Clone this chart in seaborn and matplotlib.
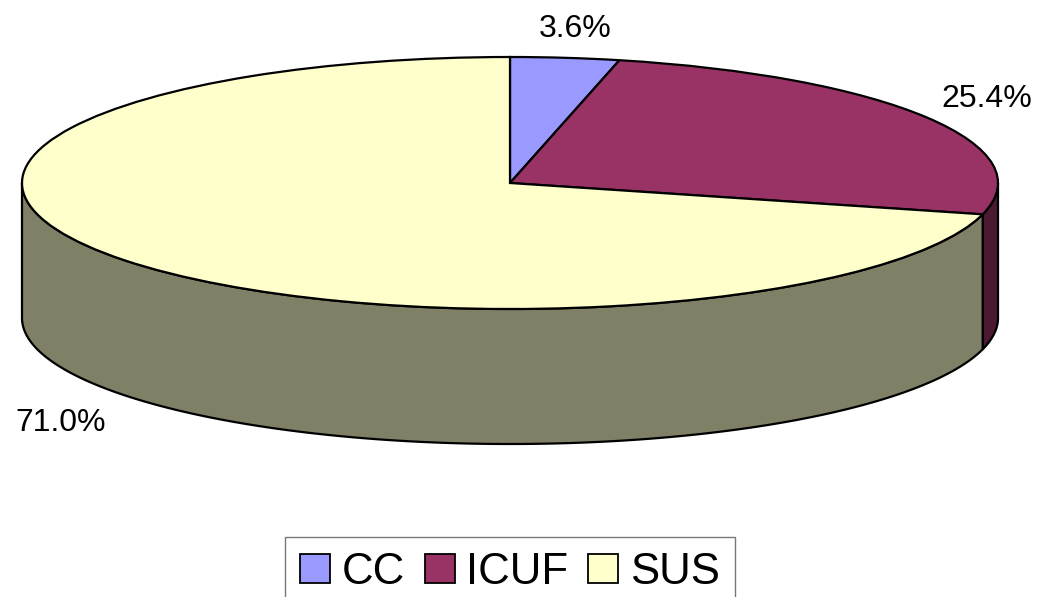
import matplotlib
matplotlib.use('Agg')
import matplotlib.pyplot as plt
import seaborn as sns
import numpy as np
from matplotlib.patches import Patch

# data
labels = ['CC', 'ICUF', 'SUS']
shares = [3.6, 25.4, 71.0]
pct_text = ['3.6%', '25.4%', '71.0%']

top_colors = ['#9999FF', '#993366', '#FFFFCC']
side_colors = ['#4C4C80', '#4C1933', '#808066']

sns.set_theme(style='white')
plt.rcParams['font.family'] = ['Liberation Sans', 'DejaVu Sans']
plt.rcParams['text.color'] = 'black'

W, H = 1043, 597
fig = plt.figure(figsize=(W / 100, H / 100), dpi=100)
ax = fig.add_axes([0, 0, 1, 1])

# pixel geometry of the tilted pie
cx, cy = 510, 183
rx, ry = 488, 126
depth = 135 / ry

# side walls (front half only, angles between -180 and 0)
bounds = 90 - np.concatenate([[0], np.cumsum(shares)]) * 3.6
for i in range(len(shares)):
    a_hi, a_lo = bounds[i], bounds[i + 1]
    lo = max(a_lo, -180)
    hi = min(a_hi, 0)
    if hi <= lo:
        continue
    t = np.radians(np.linspace(lo, hi, 200))
    xs = np.concatenate([np.cos(t), np.cos(t[::-1])])
    ys = np.concatenate([np.sin(t), np.sin(t[::-1]) - depth])
    ax.fill(xs, ys, facecolor=side_colors[i], edgecolor='black', linewidth=1.6, zorder=1)

# top face
ax.pie(shares, colors=top_colors, startangle=90, counterclock=False,
       wedgeprops=dict(edgecolor='black', linewidth=1.6, zorder=2))

ax.set_aspect('auto')
ax.set_xlim(-cx / rx, (W - cx) / rx)
ax.set_ylim((cy - H) / ry, cy / ry)
ax.axis('off')


def to_data(px, py):
    return (px - cx) / rx, (cy - py) / ry


label_pos = [(575, 37), (987, 107), (61, 431)]
for txt, (px, py) in zip(pct_text, label_pos):
    x, y = to_data(px, py)
    ax.text(x, y, txt, ha='center', va='baseline', fontsize=23, color='black')

handles = [Patch(facecolor=c, edgecolor='black', linewidth=1.3) for c in top_colors]
leg = fig.legend(handles, labels, loc='upper center',
                 bbox_to_anchor=(510 / W, 1 - 537 / H),
                 ncol=3, fontsize=31.5, frameon=True, fancybox=False,
                 handlelength=0.68, handleheight=0.64, handletextpad=0.27,
                 columnspacing=0.45, borderpad=0.35, borderaxespad=0,
                 labelcolor='black')
leg.get_frame().set_edgecolor('#555555')
leg.get_frame().set_linewidth(1.0)

fig.savefig('out.png', dpi=100)
